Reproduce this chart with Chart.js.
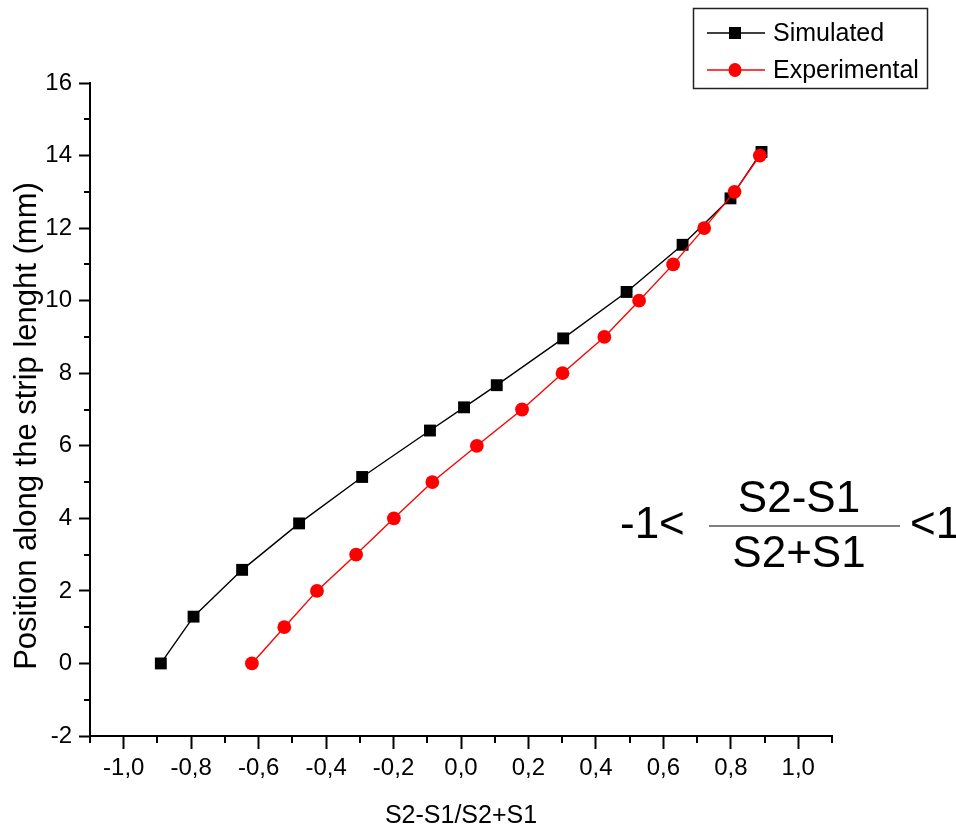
<!DOCTYPE html>
<html><head><meta charset="utf-8">
<script src="https://cdn.jsdelivr.net/npm/chart.js@4.4.0/dist/chart.umd.min.js"></script>
<style>html,body{margin:0;padding:0;background:#fff}canvas{display:block}</style>
</head><body>
<canvas id="c" width="956" height="829"></canvas>
<script>
// ---- data ----
const SERIES_NAMES = ['Simulated', 'Experimental'];
const SIM_X = [-0.890, -0.793, -0.649, -0.480, -0.293, -0.092, 0.009, 0.106, 0.303, 0.491, 0.657, 0.799, 0.891];
const SIM_Y = [0.00, 1.29, 2.58, 3.86, 5.14, 6.42, 7.06, 7.67, 8.96, 10.24, 11.54, 12.82, 14.10];
const EXP_X = [-0.620, -0.524, -0.427, -0.311, -0.199, -0.085, 0.047, 0.181, 0.301, 0.425, 0.528, 0.629, 0.721, 0.811, 0.886];
const EXP_Y = [0, 1, 2, 3, 4, 5, 6, 7, 8, 9, 10, 11, 12, 13, 14];
const X_TICKS = [-1.0, -0.8, -0.6, -0.4, -0.2, 0.0, 0.2, 0.4, 0.6, 0.8, 1.0];
const X_MINOR = [-1.1, -0.9, -0.7, -0.5, -0.3, -0.1, 0.1, 0.3, 0.5, 0.7, 0.9, 1.1];
const Y_TICKS = [-2, 0, 2, 4, 6, 8, 10, 12, 14, 16];
const Y_MINOR = [-1, 1, 3, 5, 7, 9, 11, 13, 15];
const X_TITLE = 'S2-S1/S2+S1';
const Y_TITLE = 'Position along the strip lenght (mm)';
const F_LEFT = '-1<', F_NUM = 'S2-S1', F_DEN = 'S2+S1', F_RIGHT = '<1';

const FONT = '"Liberation Sans", Arial, Helvetica, sans-serif';
const TICK_FONT = '"Liberation Sans Narrow", "Liberation Sans", Arial, sans-serif';
Chart.defaults.font.family = FONT;
Chart.defaults.color = '#000';

const toPts = (xs, ys) => xs.map((x, i) => ({x, y: ys[i]}));

const extras = {
  id: 'extras',
  afterDraw(chart) {
    const ctx = chart.ctx, xs = chart.scales.x, ys = chart.scales.y, a = chart.chartArea;
    ctx.save();
    // minor ticks
    ctx.strokeStyle = '#000'; ctx.lineWidth = 2;
    ctx.beginPath();
    X_MINOR.forEach(v => { const p = Math.round(xs.getPixelForValue(v)); ctx.moveTo(p, a.bottom); ctx.lineTo(p, a.bottom + 7); });
    Y_MINOR.forEach(v => { const p = Math.round(ys.getPixelForValue(v)); ctx.moveTo(a.left, p); ctx.lineTo(a.left - 6, p); });
    ctx.stroke();
    // y title
    ctx.save();
    ctx.translate(36, 426); ctx.rotate(-Math.PI / 2);
    ctx.font = '31px ' + FONT; ctx.textAlign = 'center'; ctx.textBaseline = 'alphabetic'; ctx.fillStyle = '#000';
    ctx.fillText(Y_TITLE, 0, 0);
    ctx.restore();
    // legend
    ctx.lineWidth = 1.5; ctx.strokeStyle = '#222';
    ctx.strokeRect(693.5, 8.5, 234, 80);
    const rows = [33, 70];
    chart.data.datasets.forEach((ds, i) => {
      const y = rows[i];
      ctx.strokeStyle = ds.borderColor; ctx.lineWidth = 1.5;
      ctx.beginPath(); ctx.moveTo(707, y); ctx.lineTo(765, y); ctx.stroke();
      ctx.fillStyle = ds.pointBackgroundColor;
      if (ds.pointStyle === 'rect') { ctx.fillRect(729, y - 6, 12, 12); }
      else { ctx.beginPath(); ctx.ellipse(735, y, 6.5, 7, 0, 0, Math.PI * 2); ctx.fill(); }
      ctx.fillStyle = '#000'; ctx.font = '25px ' + FONT; ctx.textAlign = 'left'; ctx.textBaseline = 'middle';
      ctx.fillText(ds.label, 773, y + 1);
    });
    // formula annotation
    ctx.fillStyle = '#000'; ctx.font = '44px ' + FONT; ctx.textBaseline = 'alphabetic';
    ctx.textAlign = 'left'; ctx.fillText(F_LEFT, 620, 538);
    ctx.textAlign = 'center'; ctx.fillText(F_NUM, 799, 512); ctx.fillText(F_DEN, 799, 567);
    ctx.textAlign = 'left'; ctx.fillText(F_RIGHT, 910, 538);
    ctx.strokeStyle = '#000'; ctx.lineWidth = 1.2;
    ctx.beginPath(); ctx.moveTo(709, 526); ctx.lineTo(900, 526); ctx.stroke();
    ctx.restore();
  }
};

new Chart(document.getElementById('c'), {
  type: 'scatter',
  data: {
    datasets: [
      {
        label: SERIES_NAMES[0], data: toPts(SIM_X, SIM_Y), showLine: true, tension: 0,
        borderColor: '#000', borderWidth: 1.4, pointStyle: 'rect', pointRadius: 8.4,
        pointBackgroundColor: '#000', pointBorderColor: '#000', pointBorderWidth: 0, order: 1
      },
      {
        label: SERIES_NAMES[1], data: toPts(EXP_X, EXP_Y), showLine: true, tension: 0,
        borderColor: '#ff0000', borderWidth: 1.4, pointStyle: 'circle', pointRadius: 6.9,
        pointBackgroundColor: '#ff0000', pointBorderColor: '#ff0000', pointBorderWidth: 0, order: 0
      }
    ]
  },
  options: {
    responsive: false, animation: false, devicePixelRatio: 1,
    layout: {padding: {left: 0, top: 83, right: 124, bottom: 0}},
    plugins: {legend: {display: false}, tooltip: {enabled: false}},
    scales: {
      x: {
        type: 'linear', min: -1.1, max: 1.1,
        afterBuildTicks: s => { s.ticks = X_TICKS.map(v => ({value: v})); },
        afterFit: s => { s.height = 93; },
        ticks: {autoSkip: false, maxRotation: 0, padding: 5, font: {size: 24, family: TICK_FONT},
          callback: v => (Math.round(v * 10) / 10).toFixed(1).replace('.', ',')},
        grid: {drawOnChartArea: false, drawTicks: true, tickLength: 13, tickWidth: 2, tickColor: '#000'},
        border: {display: true, color: '#000', width: 2},
        title: {display: true, text: X_TITLE, font: {size: 25, lineHeight: 1}, padding: 0, color: '#000'}
      },
      y: {
        type: 'linear', min: -2, max: 16,
        afterBuildTicks: s => { s.ticks = Y_TICKS.map(v => ({value: v})); },
        afterFit: s => { s.width = 90; },
        ticks: {autoSkip: false, padding: 7, font: {size: 24, family: TICK_FONT}, callback: v => String(v)},
        grid: {drawOnChartArea: false, drawTicks: true, tickLength: 11, tickWidth: 2, tickColor: '#000'},
        border: {display: true, color: '#000', width: 2}
      }
    }
  },
  plugins: [extras]
});
</script>
</body></html>
